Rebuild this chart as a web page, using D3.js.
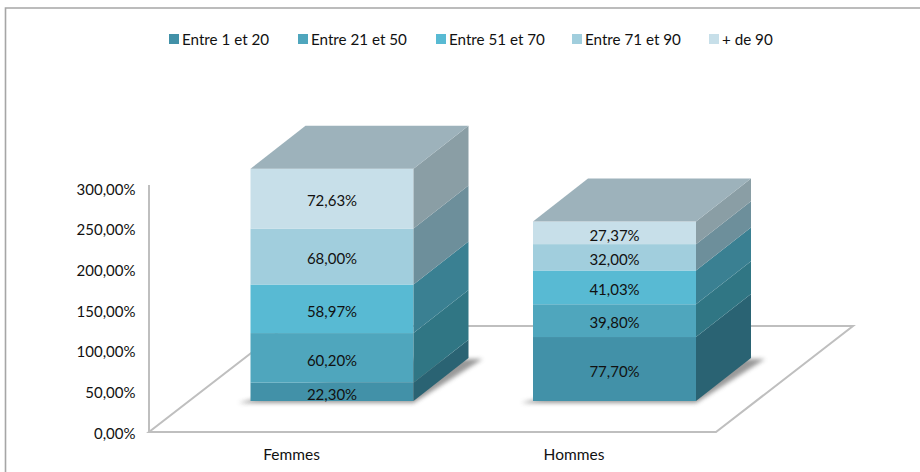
<!DOCTYPE html>
<html lang="fr">
<head>
  <meta charset="UTF-8" />
  <title>Femmes / Hommes</title>
  <script src="https://d3js.org/d3.v7.min.js"></script>
  <style>
    html, body { margin: 0; padding: 0; background: #fff; }
    text { font-family: Lato, "Open Sans", sans-serif; fill: #111; }
  </style>
</head>
<body>
  <svg id="chart" width="920" height="472" style="display:block"></svg>
  <script>
    // Data
    const categories = ["Femmes", "Hommes"];
    const seriesNames = ["Entre 1 et 20", "Entre 21 et 50", "Entre 51 et 70", "Entre 71 et 90", "+ de 90"];
    const entre1et20 = [22.30, 77.70];
    const entre21et50 = [60.20, 39.80];
    const entre51et70 = [58.97, 41.03];
    const entre71et90 = [68.00, 32.00];
    const plusDe90 = [72.63, 27.37];
    const yTicks = [0, 50, 100, 150, 200, 250, 300];

    const frontColors = ["#4291a8", "#4fa6bd", "#58bad3", "#a1cedd", "#c7dfe9"];
    const sideColors = ["#2a6373", "#307684", "#3a8092", "#6d8f9b", "#8a9ea5"];
    const topColor = "#9db2bb";
    const wallColor = "#bfbfbf";

    const svg = d3.select("#chart");
    const width = +svg.attr("width");
    const height = +svg.attr("height");
    const percent = d => d3.format(".2f")(d).replace(".", ",") + "%";

    // Frame of the chart: only the top and left edges are inside the picture
    svg.append("path")
      .attr("d", `M5.5,${height}V8H${width}`)
      .attr("fill", "none").attr("stroke", "#a6a6a6").attr("stroke-width", 1.6);

    svg.append("defs").append("filter").attr("id", "soft")
      .attr("x", "-20%").attr("y", "-20%").attr("width", "140%").attr("height", "140%")
      .append("feGaussianBlur").attr("stdDeviation", 2.2);

    // Scales
    const y = d3.scaleLinear().domain([0, 300]).range([432, 185]);
    const yLabels = d3.scaleLinear().domain([0, 300]).range([433.5, 189.5]);  // tick labels sit a bit off the wall scale
    const x = d3.scalePoint().domain(categories).range([291, 573.5]);
    const barWidth = 163;
    const barLift = 31;   // bars stand inside the floor, not on its front edge
    const depth = { x: 55, y: 43 };
    const floorDepth = { x: 137, y: 106 };
    const wallX = 149;
    const floorRight = 716;

    // Floor and wall lines
    const floor = svg.append("g").attr("fill", "none").attr("stroke", wallColor).attr("stroke-width", 2);
    floor.append("path")
      .attr("d", `M${wallX},${y(0)}H${floorRight}l${floorDepth.x},${-floorDepth.y}H${wallX + floorDepth.x}Z`);
    floor.append("path").attr("d", `M${wallX},${y(0)}V${y(300)}`);

    // Y axis, labels only
    const yAxis = svg.append("g")
      .attr("transform", "translate(135.5,0)")
      .call(d3.axisLeft(yLabels).tickValues(yTicks).tickSize(0).tickFormat(percent));
    yAxis.select(".domain").remove();
    yAxis.selectAll("text").attr("font-size", 15).attr("font-family", "Lato").attr("dy", "0.32em").attr("x", 0);

    // X axis, labels only
    const xAxis = svg.append("g")
      .attr("transform", "translate(0,455)")
      .call(d3.axisBottom(x).tickSize(0));
    xAxis.select(".domain").remove();
    xAxis.selectAll("text").attr("font-size", 15.5).attr("font-family", "Lato").attr("y", 0).attr("dy", "0.32em");

    // Stacks
    const rows = categories.map((c, i) => ({
      category: c,
      0: entre1et20[i], 1: entre21et50[i], 2: entre51et70[i], 3: entre71et90[i], 4: plusDe90[i]
    }));
    const layers = d3.stack().keys([0, 1, 2, 3, 4])(rows);

    const bars = svg.append("g").selectAll("g")
      .data(categories)
      .join("g")
      .attr("transform", d => `translate(${x(d) - 40.5},${-barLift})`);

    bars.each(function (cat, ci) {
      const g = d3.select(this);
      // Ground shadow
      g.append("path")
        .attr("d", `M-12,${y(0) + 2}H${barWidth}L${barWidth + depth.x + 14},${y(0) - depth.y + 1}H${barWidth}Z`)
        .attr("fill", "#777").attr("opacity", 0.75).attr("filter", "url(#soft)");

      layers.forEach((layer, li) => {
        const [y0, y1] = layer[ci];
        // Front face
        g.append("rect")
          .attr("x", 0).attr("y", y(y1))
          .attr("width", barWidth).attr("height", y(y0) - y(y1))
          .attr("fill", frontColors[li]);
        // Side face
        g.append("path")
          .attr("d", `M${barWidth},${y(y0)}V${y(y1)}l${depth.x},${-depth.y}V${y(y0) - depth.y}Z`)
          .attr("fill", sideColors[li]);
      });

      // Top face
      const top = y(layers[4][ci][1]);
      g.append("path")
        .attr("d", `M0,${top}H${barWidth}l${depth.x},${-depth.y}H${depth.x}Z`)
        .attr("fill", topColor);

      // Value labels
      layers.forEach(layer => {
        const [y0, y1] = layer[ci];
        g.append("text")
          .attr("x", barWidth / 2)
          .attr("y", (y(y0) + y(y1)) / 2 + 2.5)
          .attr("dy", "0.35em")
          .attr("text-anchor", "middle")
          .attr("font-size", 15)
          .text(percent(y1 - y0));
      });
    });

    // Legend
    const legendX = [169, 298, 436, 572, 709];
    const legend = svg.append("g").selectAll("g")
      .data(seriesNames)
      .join("g")
      .attr("transform", (d, i) => `translate(${legendX[i]},34)`);
    legend.append("rect").attr("width", 10).attr("height", 10).attr("fill", (d, i) => frontColors[i]);
    legend.append("text").attr("x", 13).attr("y", 5.5).attr("dy", "0.35em").attr("font-size", 15.2).text(d => d);
  </script>
</body>
</html>
